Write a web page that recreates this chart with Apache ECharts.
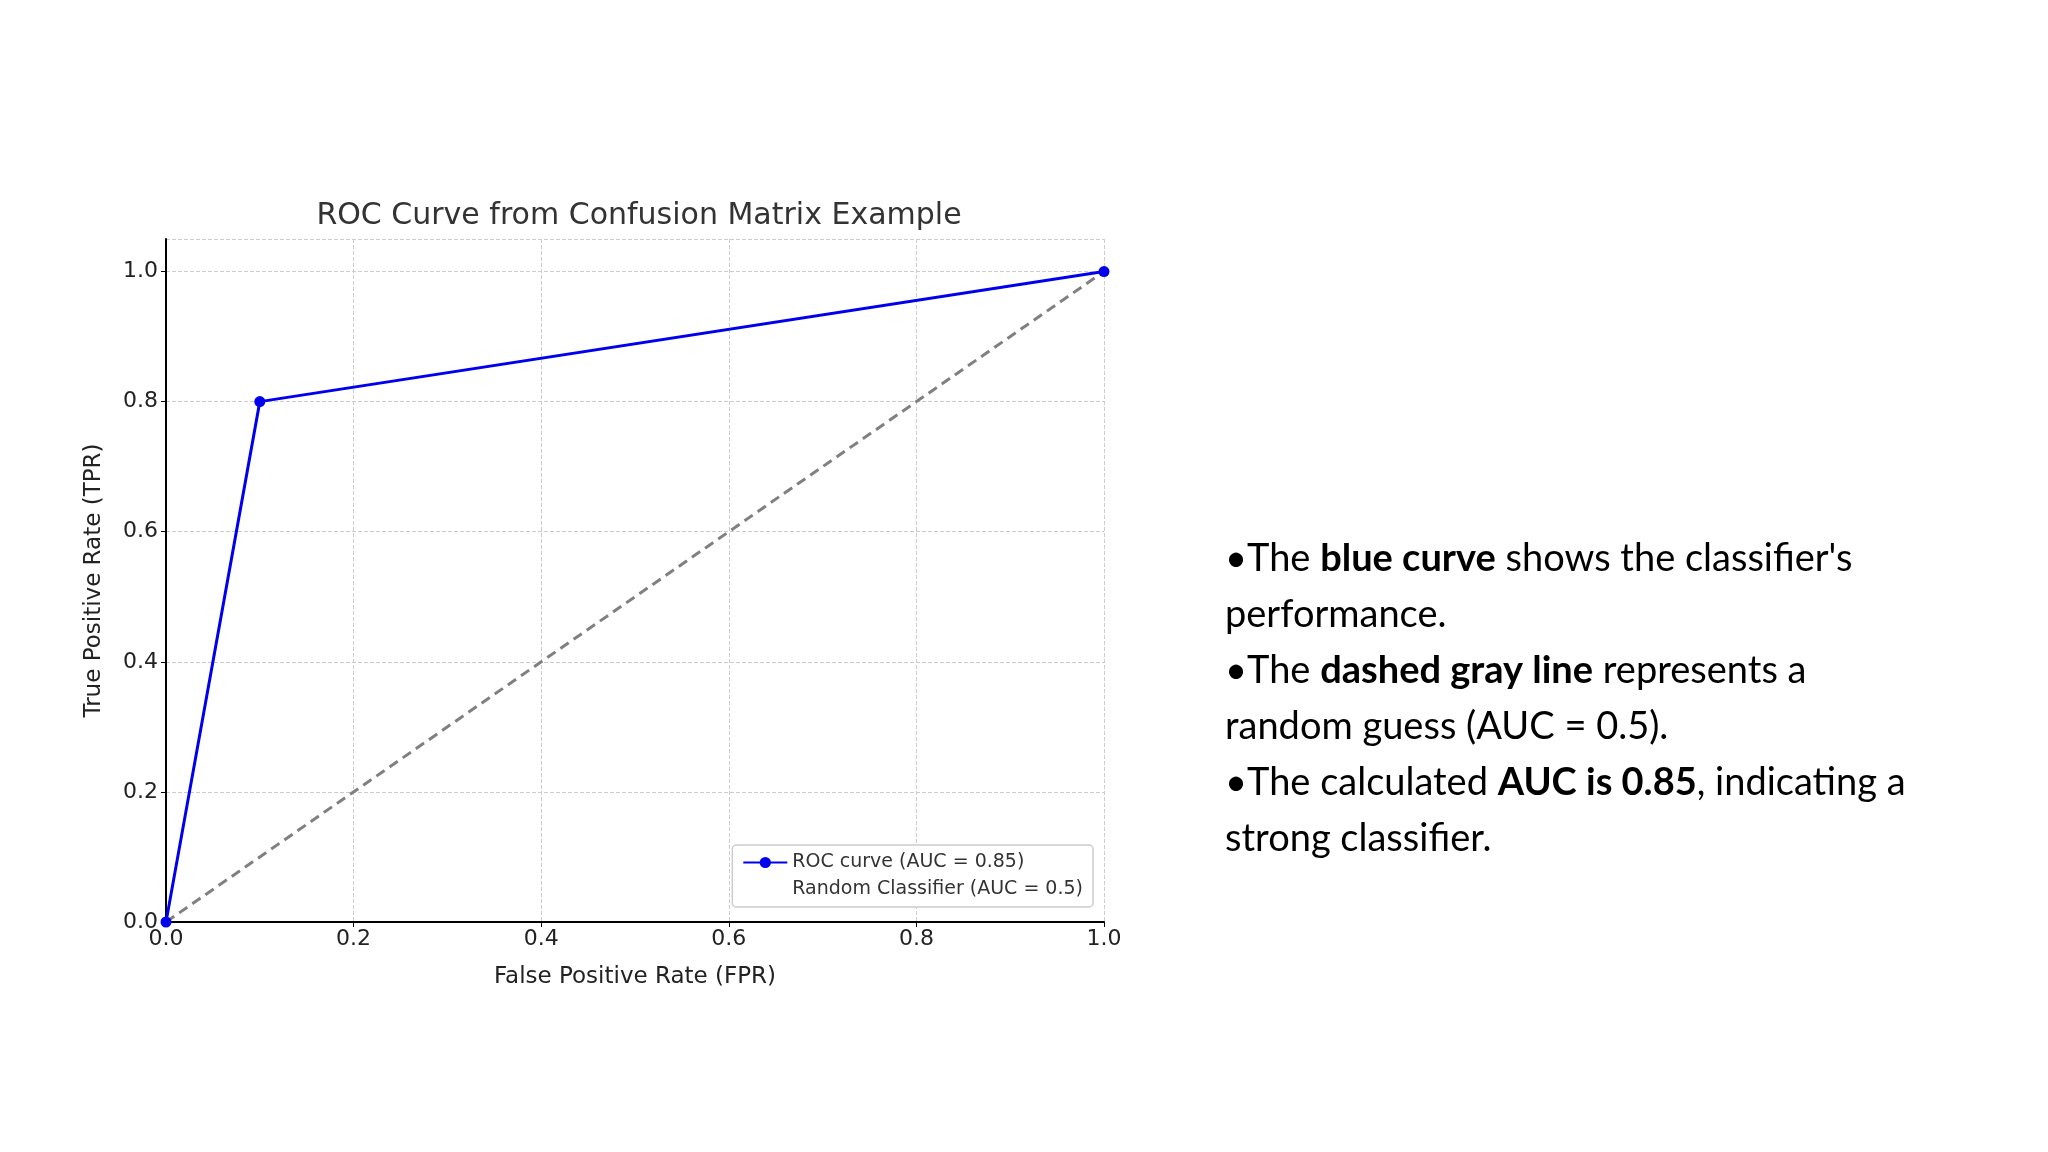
<!DOCTYPE html>
<html><head><meta charset="utf-8">
<script src="https://cdn.jsdelivr.net/npm/echarts@6/dist/echarts.min.js"></script>
<style>html,body{margin:0;background:#fff}#c{width:2048px;height:1152px}</style>
</head><body><div id="c"></div>
<script>
const rocFPR = [0, 0.1, 1];
const rocTPR = [0, 0.8, 1];
const randFPR = [0, 1];
const randTPR = [0, 1];
const rocName = 'ROC curve (AUC = 0.85)';
const randName = 'Random Classifier (AUC = 0.5)';
const bulletLines = [
  [['•The ', false], ['blue curve', true], [" shows the classifier's", false]],
  [['performance.', false]],
  [['•The ', false], ['dashed gray line', true], [' represents a', false]],
  [['random guess (AUC = 0.5).', false]],
  [['•The calculated ', false], ['AUC is 0.85', true], [', indicating a', false]],
  [['strong classifier.', false]]
];
const chart = echarts.init(document.getElementById('c'));
const graphics = bulletLines.map((parts, i) => ({
  type: 'text', left: 1225, top: 540 + i * 56,
  style: {
    text: parts.map(p => p[1] ? '{b|' + p[0] + '}' : '{n|' + p[0] + '}').join(''),
    rich: {
      n: {fontFamily: 'Lato', fontSize: 38, fill: '#000'},
      b: {fontFamily: 'Lato', fontSize: 38, fontWeight: 'bold', fill: '#000'}
    }
  }
}));
const tickFmt = v => (Math.abs(v * 5 - Math.round(v * 5)) < 1e-6) ? v.toFixed(1) : '';
chart.setOption({
  animation: false,
  title: {text: 'ROC Curve from Confusion Matrix Example', left: 634, top: 196, textAlign: 'center',
    textStyle: {fontFamily: 'DejaVu Sans', fontSize: 30, fontWeight: 'normal', color: '#333'}},
  grid: {left: 166, right: 944, top: 239, bottom: 230},
  legend: {right: 2048 - 1093, top: 845, orient: 'vertical', itemGap: 8,
    backgroundColor: '#fff', borderColor: '#ccc', borderWidth: 1.5, borderRadius: 4, padding: [8, 10],
    itemWidth: 44, itemHeight: 14,
    textStyle: {fontFamily: 'DejaVu Sans', fontSize: 19, color: '#333'},
    data: [{name: rocName}, {name: randName, icon: 'none'}]},
  xAxis: {type: 'value', min: 0, max: 1, interval: 0.2,
    name: 'False Positive Rate (FPR)', nameLocation: 'middle', nameGap: 44,
    nameTextStyle: {fontFamily: 'DejaVu Sans', fontSize: 23, color: '#222'},
    axisLine: {lineStyle: {color: '#000', width: 2}}, axisTick: {show: true, lineStyle: {color: '#000'}},
    axisLabel: {fontFamily: 'DejaVu Sans', fontSize: 22, color: '#222', formatter: tickFmt, margin: 6},
    splitLine: {lineStyle: {type: 'dashed', color: '#ccc'}}},
  yAxis: {type: 'value', min: 0, max: 1.05, interval: 0.2,
    name: 'True Positive Rate (TPR)', nameLocation: 'middle', nameGap: 60,
    nameTextStyle: {fontFamily: 'DejaVu Sans', fontSize: 23, color: '#222'},
    axisLine: {show: true, lineStyle: {color: '#000', width: 2}}, axisTick: {show: true, lineStyle: {color: '#000'}},
    axisLabel: {fontFamily: 'DejaVu Sans', fontSize: 22, color: '#222', formatter: tickFmt, showMaxLabel: false},
    splitLine: {lineStyle: {type: 'dashed', color: '#ccc'}}},
  graphic: graphics,
  series: [
    {name: rocName, type: 'line', data: rocFPR.map((x, i) => [x, rocTPR[i]]),
      color: '#0000ee', lineStyle: {width: 3}, symbol: 'circle', symbolSize: 11,
      itemStyle: {color: '#0000ee'}, z: 3},
    {name: randName, type: 'line', data: randFPR.map((x, i) => [x, randTPR[i]]),
      color: '#808080', lineStyle: {width: 3, type: [10, 6], color: '#808080'}, symbol: 'none', z: 2}
  ]
});
</script></body></html>
